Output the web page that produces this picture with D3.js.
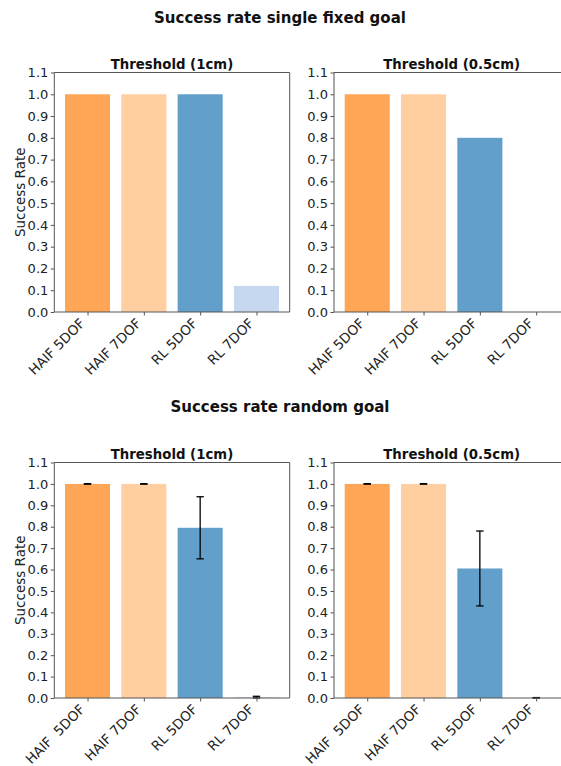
<!DOCTYPE html>
<html><head><meta charset="utf-8">
<script src="https://cdn.jsdelivr.net/npm/d3@7"></script>
<style>body{margin:0;background:#fff;overflow:hidden}svg{display:block;font-family:"DejaVu Sans",sans-serif}</style>
</head><body>
<script>
const catsTop = ["HAIF 5DOF","HAIF 7DOF","RL 5DOF","RL 7DOF"];
const catsBottom = ["HAIF  5DOF","HAIF 7DOF","RL 5DOF","RL 7DOF"];
const colors = ["#ffa556","#ffcfa1","#62a0cb","#c6d8ef"];
const fixed1cm = [1.0, 1.0, 1.0, 0.12];
const fixed05cm = [1.0, 1.0, 0.8, 0.0];
const random1cm = [1.0, 1.0, 0.795, 0.003];
const random1cmErr = [0.001, 0.001, 0.145, 0.005];
const random05cm = [1.0, 1.0, 0.605, 0.0];
const random05cmErr = [0.001, 0.001, 0.175, 0.002];
const yTicks = [0,0.1,0.2,0.3,0.4,0.5,0.6,0.7,0.8,0.9,1.0,1.1];

const W=561,H=766;
const svg=d3.select("body").append("svg").attr("width",W).attr("height",H);

function panel(x0,yTop,yBot,cats,vals,errs,title,ylabel){
  const w=235.4;
  const x=d3.scaleLinear().domain([-0.59,3.59]).range([x0,x0+w]);
  const y=d3.scaleLinear().domain([0,1.1]).range([yBot,yTop]);
  const g=svg.append("g");
  g.selectAll("rect.bar").data(vals).join("rect")
    .attr("x",(d,i)=>x(i-0.4)).attr("width",x(0.8)-x(0))
    .attr("y",d=>y(d)).attr("height",d=>yBot-y(d))
    .attr("fill",(d,i)=>colors[i]);
  if(errs){
    errs.forEach((e,i)=>{
      const cx=x(i), y1=y(Math.max(0,vals[i]-e)), y2=y(vals[i]+e);
      g.append("line").attr("x1",cx).attr("x2",cx).attr("y1",y1).attr("y2",y2).attr("stroke","#000").attr("stroke-width",1.3);
      [y1,y2].forEach(yy=>g.append("line").attr("x1",cx-3.7).attr("x2",cx+3.7).attr("y1",yy).attr("y2",yy).attr("stroke","#000").attr("stroke-width",1.3));
    });
  }
  const sp="#555";
  g.append("line").attr("x1",x0).attr("x2",x0+w).attr("y1",yTop).attr("y2",yTop).attr("stroke",sp);
  g.append("line").attr("x1",x0).attr("x2",x0+w).attr("y1",yBot).attr("y2",yBot).attr("stroke",sp);
  g.append("line").attr("x1",x0).attr("x2",x0).attr("y1",yTop).attr("y2",yBot).attr("stroke",sp);
  g.append("line").attr("x1",x0+w).attr("x2",x0+w).attr("y1",yTop).attr("y2",yBot).attr("stroke",sp);
  const ya=g.append("g").attr("transform",`translate(${x0},0)`)
    .call(d3.axisLeft(y).tickValues(yTicks).tickFormat(d3.format(".1f")).tickSize(3.5).tickPadding(2.5));
  ya.select(".domain").remove();
  ya.selectAll("line").attr("stroke",sp);
  ya.selectAll("text").attr("font-size",13).attr("fill","#222").attr("font-family","DejaVu Sans");
  const xa=g.append("g").attr("transform",`translate(0,${yBot})`)
    .call(d3.axisBottom(x).tickValues([0,1,2,3]).tickFormat(i=>cats[i]).tickSize(3.5).tickPadding(3));
  xa.select(".domain").remove();
  xa.selectAll("line").attr("stroke",sp);
  xa.selectAll("text").attr("font-size",13.5).attr("fill","#222").attr("font-family","DejaVu Sans")
    .style("white-space","pre")
    .attr("text-anchor","end").attr("transform","translate(-2.3,12.3) rotate(-45)").attr("dy",0).attr("y",0).attr("x",0);
  g.append("text").attr("x",x0+w/2).attr("y",yTop-4).attr("text-anchor","middle")
    .attr("font-size",13.3).attr("font-weight","bold").attr("fill","#111").text(title);
  if(ylabel){
    g.append("text").attr("transform",`translate(25,${(yTop+yBot)/2}) rotate(-90)`).attr("text-anchor","middle")
      .attr("font-size",13.5).attr("fill","#222").text(ylabel);
  }
}
svg.append("text").attr("x",280).attr("y",22.5).attr("text-anchor","middle").attr("font-size",15).attr("font-weight","bold").attr("fill","#111").text("Success rate single fixed goal");
svg.append("text").attr("x",280).attr("y",412).attr("text-anchor","middle").attr("font-size",15).attr("font-weight","bold").attr("fill","#111").text("Success rate random goal");
panel(54.3,72.5,312,catsTop,fixed1cm,null,"Threshold (1cm)","Success Rate");
panel(334,72.5,312,catsTop,fixed05cm,null,"Threshold (0.5cm)",null);
panel(54.3,462.5,698,catsBottom,random1cm,random1cmErr,"Threshold (1cm)","Success Rate");
panel(334,462.5,698,catsBottom,random05cm,random05cmErr,"Threshold (0.5cm)",null);
</script>
</body></html>
